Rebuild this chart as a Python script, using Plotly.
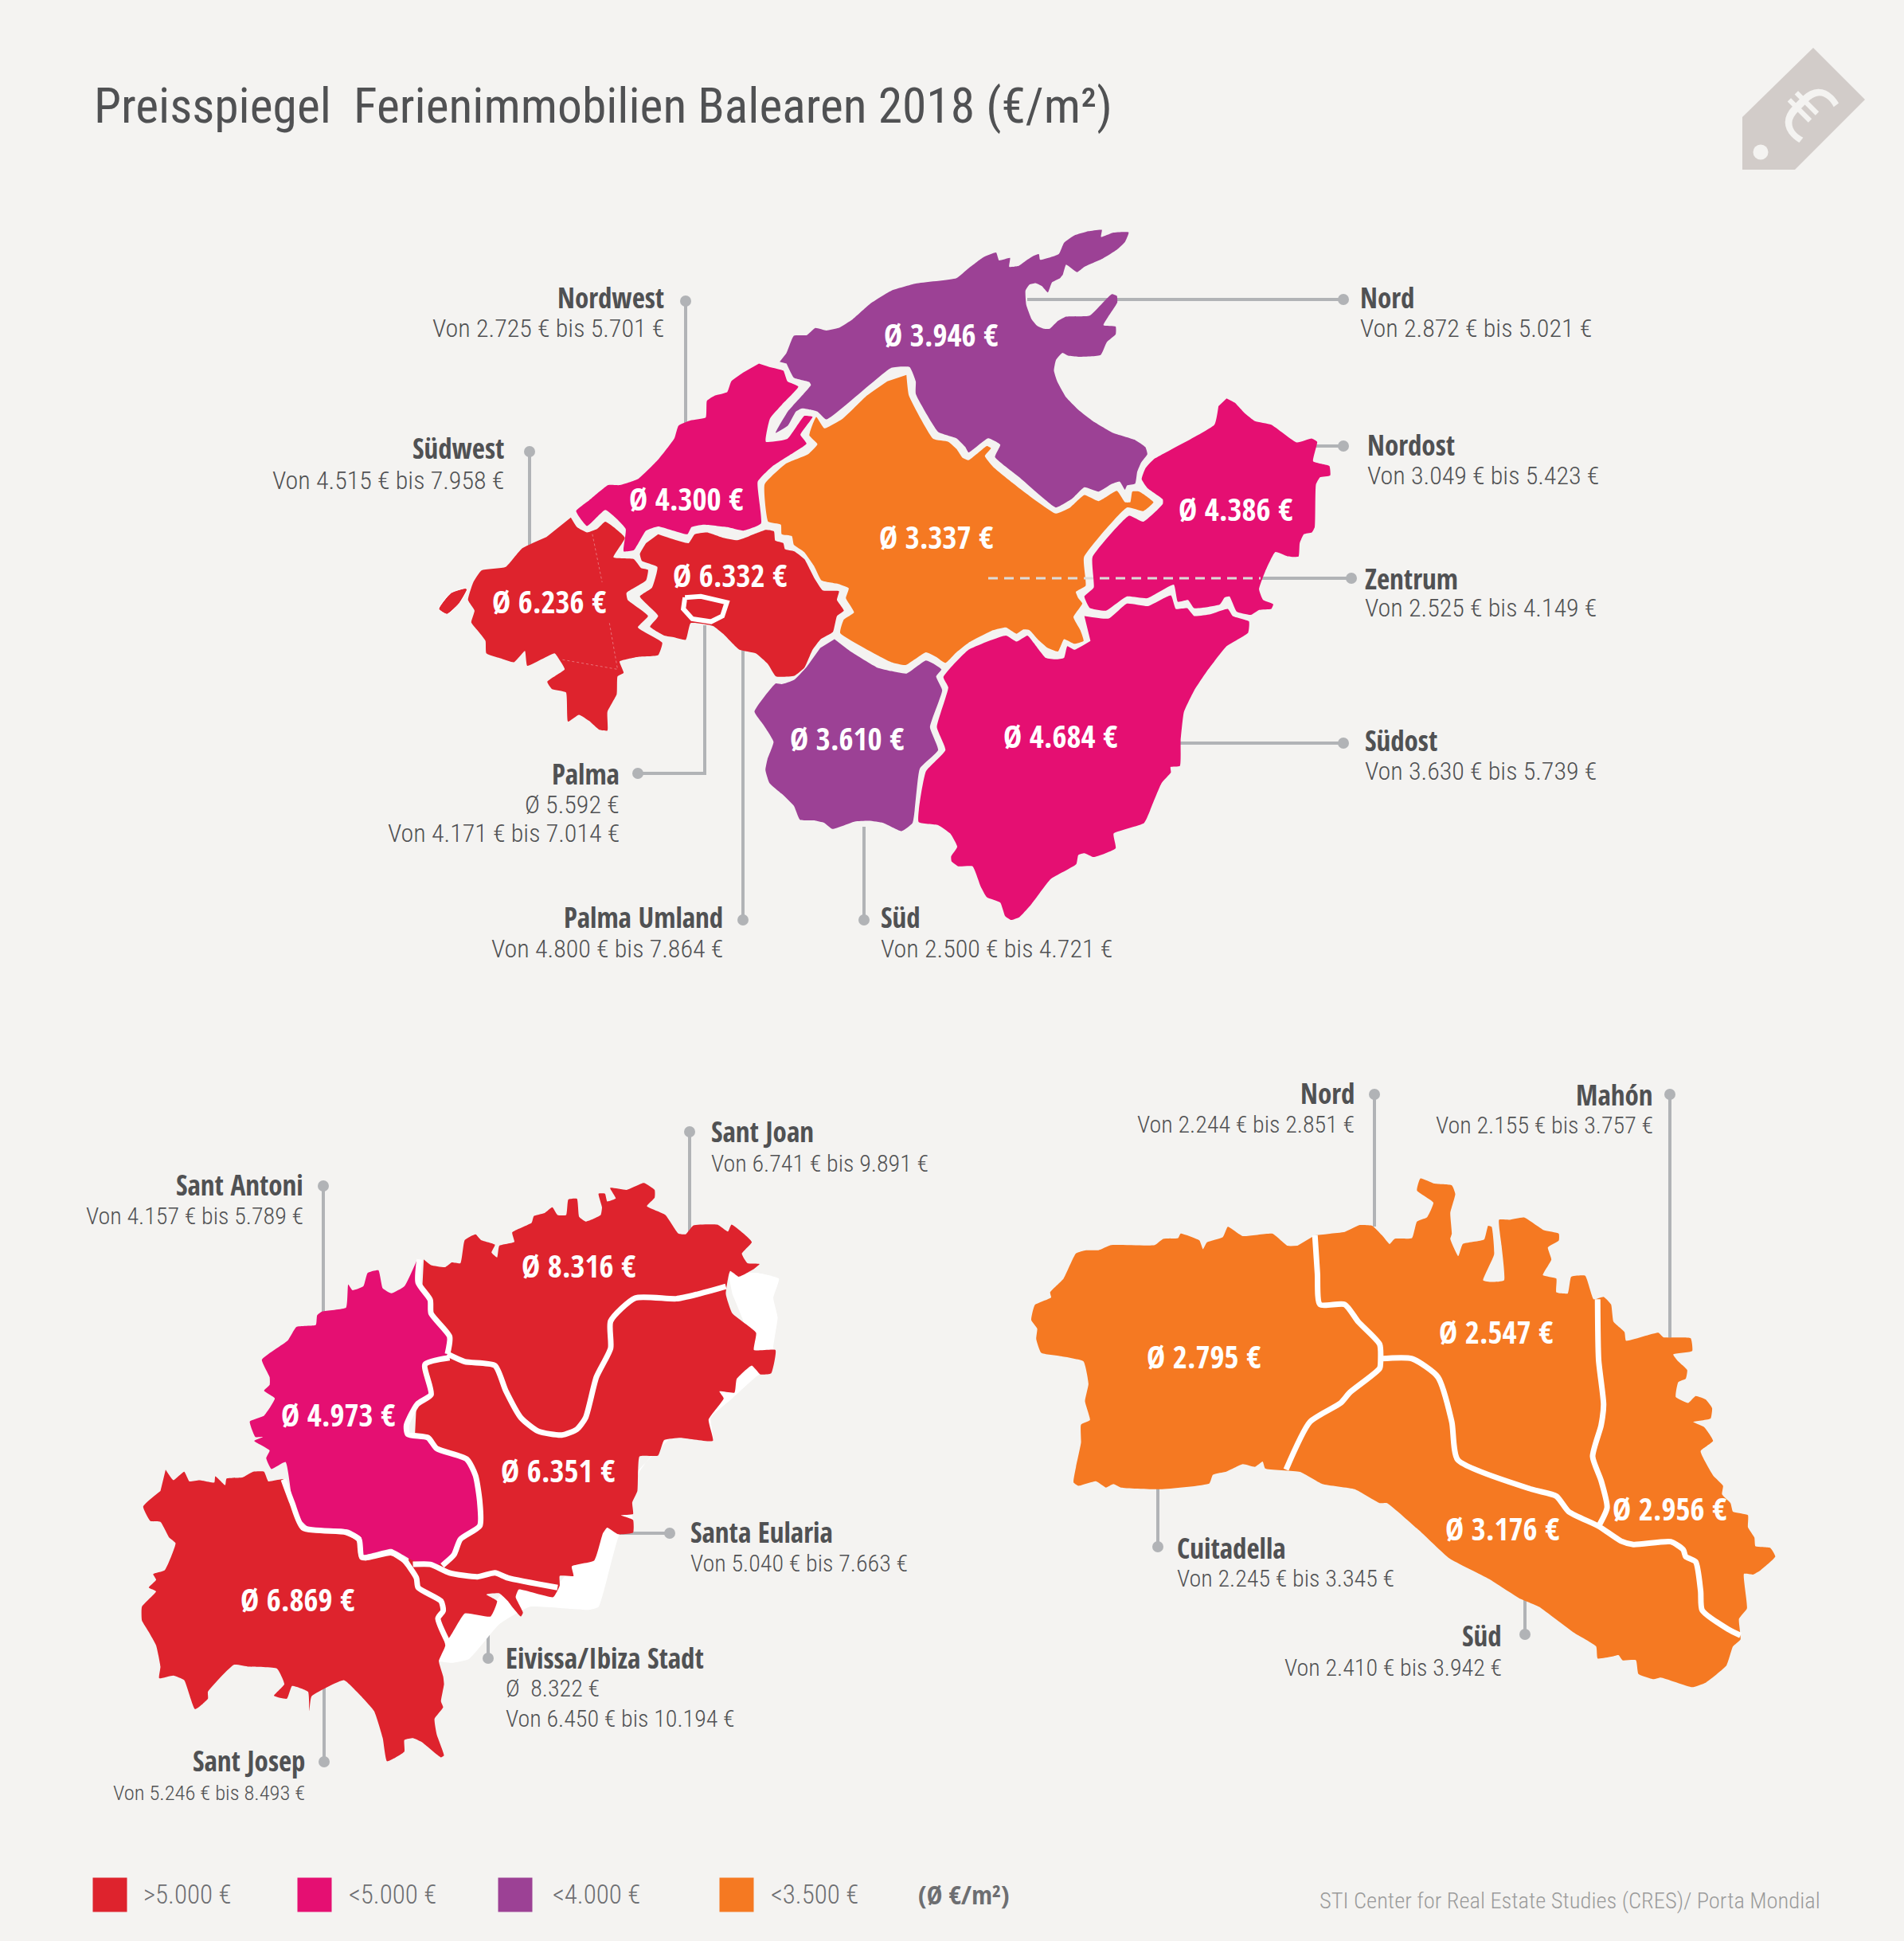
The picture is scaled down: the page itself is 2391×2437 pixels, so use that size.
import plotly.graph_objects as go

W, H = 2391, 2437
BG = "#F4F3F1"
ROT = "#DE232D"
PINK = "#E50F72"
LILA = "#9C4195"
ORANGE = "#F57922"
GRAU = "#B1B3B6"
TEXT = "#505153"
FONT = "Roboto Condensed"
FONT_BOLD = "Open Sans Condensed"

# outlines, each island in its own grid
# grid of mallorca: px = 900 + x / 1.96, py = 260 + y / 2.24
ma_nord = [(155,435),(172,410),(190,362),(222,360),(243,340),(270,347),(300,340),(335,315),(380,270),(430,235),(490,215),(590,200),(620,172),(655,142),(688,128),(695,150),(722,143),(720,168),(742,166),(762,150),(780,137),(793,132),(796,148),(842,132),(855,100),(880,80),(915,68),(948,64),(946,84),(975,72),(1014,71),(1005,98),(985,120),(950,145),(905,168),(887,183),(860,162),(852,190),(845,200),(825,212),(815,240),(800,222),(785,214),(770,218),(760,235),(762,275),(775,315),(790,335),(805,342),(820,342),(840,320),(860,308),(918,305),(972,245),(985,250),(986,268),(952,332),(982,336),(982,358),(960,380),(945,416),(890,421),(865,418),(851,410),(835,430),(830,460),(838,490),(860,535),(890,570),(930,605),(975,635),(1030,655),(1055,675),(1060,695),(1045,718),(1035,745),(1030,778),(1010,783),(1005,795),(992,772),(970,780),(940,800),(905,788),(875,820),(835,845),(800,815),(745,760),(685,703),(698,668),(668,650),(620,690),(612,675),(590,650),(545,632),(490,525),(490,490),(475,450),(430,452),(270,597),(248,575),(210,566),(195,575),(175,615),(145,635),(175,575),(232,500),(228,492),(190,480),(172,440)]
ma_zentrum = [(467,472),(473,530),(533,652),(570,660),(590,680),(605,705),(620,712),(665,672),(675,678),(660,700),(680,730),(750,795),(835,862),(870,845),(905,810),(940,827),(985,798),(1005,830),(1018,830),(1023,800),(1040,800),(1075,830),(1050,855),(1010,845),(904,985),(908,1065),(884,1082),(890,1100),(900,1115),(878,1153),(895,1190),(903,1220),(880,1228),(855,1215),(840,1250),(815,1240),(790,1215),(770,1190),(755,1188),(738,1200),(712,1182),(680,1190),(620,1225),(590,1252),(563,1282),(540,1265),(515,1252),(465,1288),(430,1280),(395,1260),(304,1198),(313,1160),(338,1140),(318,1100),(325,1072),(300,1060),(258,1050),(240,1010),(215,970),(190,950),(185,925),(160,920),(158,893),(127,885),(118,780),(170,722),(225,695),(248,667),(228,642),(245,590),(265,622),(310,595),(370,530),(420,490)]
ma_nordost = [(1255,538),(1275,550),(1300,580),(1325,602),(1365,612),(1428,662),(1465,651),(1478,660),(1468,715),(1508,728),(1510,755),(1485,760),(1475,780),(1472,900),(1465,915),(1445,920),(1435,945),(1432,983),(1405,982),(1375,970),(1350,1025),(1335,1075),(1345,1105),(1370,1117),(1365,1130),(1335,1133),(1315,1147),(1280,1138),(1262,1095),(1250,1098),(1238,1118),(1175,1128),(1160,1105),(1135,1110),(1125,1062),(1060,1100),(1010,1095),(958,1135),(918,1127),(905,1095),(928,1070),(925,985),(1015,868),(1050,885),(1098,835),(1098,822),(1060,790),(1046,765),(1055,735),(1075,710),(1225,612),(1235,560)]
ma_suedost = [(905,1150),(965,1157),(1010,1115),(1062,1122),(1118,1092),(1130,1130),(1158,1128),(1175,1150),(1215,1145),(1258,1130),(1270,1150),(1310,1165),(1308,1197),(1255,1235),(1210,1300),(1175,1360),(1150,1420),(1142,1500),(1140,1572),(1117,1575),(1118,1590),(1095,1620),(1075,1673),(1052,1732),(977,1762),(982,1803),(928,1828),(905,1817),(890,1822),(885,1848),(822,1890),(775,1960),(745,1997),(725,2005),(710,1994),(698,1956),(665,1941),(650,1911),(630,1854),(595,1854),(578,1840),(577,1826),(592,1799),(575,1762),(545,1738),(497,1729),(515,1587),(563,1527),(542,1463),(570,1351),(558,1322),(620,1245),(712,1205),(738,1222),(765,1205),(780,1225),(810,1268),(835,1272),(855,1268),(863,1235),(880,1245),(920,1220)]
ma_sued = [(290,1215),(330,1250),(395,1295),(430,1305),(467,1312),(515,1275),(535,1285),(553,1300),(540,1320),(555,1359),(525,1463),(545,1527),(500,1579),(482,1732),(455,1755),(410,1732),(375,1726),(340,1728),(285,1749),(265,1732),(240,1725),(205,1723),(190,1684),(160,1650),(130,1620),(120,1583),(125,1553),(140,1504),(115,1456),(93,1419),(145,1340),(160,1342),(190,1330),(220,1295),(255,1240)]
ma_umland = [(-144,920),(-104,935),(-69,945),(-54,920),(-24,915),(16,930),(51,937),(81,925),(121,908),(141,912),(144,938),(164,945),(168,962),(191,968),(216,990),(241,1045),(261,1078),(301,1080),(296,1105),(313,1135),(296,1150),(286,1195),(256,1215),(236,1245),(216,1295),(191,1318),(146,1320),(126,1285),(96,1255),(56,1245),(16,1200),(-9,1178),(-64,1170),(-76,1217),(-104,1210),(-129,1205),(-164,1180),(-144,1150),(-189,1095),(-159,1070),(-146,1012),(-184,995),(-189,975),(-174,945)]
ma_palma = [(-78,1098),(-39,1095),(25,1112),(14,1150),(-14,1166),(-60,1158),(-82,1130)]
ma_nordwest = [(104,440),(131,450),(164,460),(174,490),(201,505),(161,555),(131,595),(121,660),(174,652),(216,587),(236,590),(206,640),(221,665),(176,700),(136,730),(101,772),(109,890),(66,910),(26,900),(-34,893),(-62,900),(-72,920),(-144,898),(-174,910),(-204,965),(-229,968),(-224,905),(-274,852),(-319,897),(-346,855),(-314,825),(-267,782),(-239,782),(-194,765),(-144,710),(-104,650),(-94,615),(-64,600),(-27,592),(-24,545),(-4,530),(26,520),(36,490),(66,465)]
ma_suedwest = [(-359,873),(-344,900),(-319,915),(-294,905),(-274,885),(-226,930),(-254,985),(-204,990),(-186,1015),(-169,1020),(-174,1050),(-222,1085),(-219,1105),(-169,1150),(-194,1182),(-134,1225),(-144,1260),(-194,1265),(-239,1278),(-229,1310),(-244,1320),(-246,1370),(-269,1420),(-269,1472),(-289,1470),(-314,1445),(-339,1428),(-366,1447),(-371,1365),(-406,1355),(-417,1335),(-374,1300),(-386,1275),(-399,1255),(-466,1290),(-472,1248),(-499,1280),(-529,1270),(-567,1255),(-569,1220),(-589,1190),(-604,1168),(-596,1135),(-612,1105),(-599,1055),(-579,1022),(-519,1012),(-479,960),(-419,928)]
ma_dragonera = [(-619,1072),(-654,1085),(-684,1130),(-664,1145),(-634,1115),(-614,1075)]
ma_gemeinde_a = [(-306,920),(-282,1055)]
ma_gemeinde_b = [(-264,1170),(-244,1300),(-384,1272)]

# grid of ibiza: px = 150 + x / 1.845, py = 1460 + y / 2.063
ib_schatten = [(1410,285),(1480,285),(1528,300),(1515,350),(1525,400),(1515,480),(1520,490),(1510,540),(1480,550),(1420,610),(1370,660),(1375,720),(1300,712),(1262,720),(1205,800),(1185,880),(1190,950),(1160,960),(1110,1150),(1085,1158),(950,1150),(880,1195),(810,1285),(770,1295),(740,1290),(760,1230),(800,1170),(860,1150),(900,1100),(1000,1110),(1050,1045),(1120,960),(1200,800),(1380,600),(1470,500),(1420,340)]
ib_josep = [(107,795),(125,822),(150,800),(162,825),(185,822),(220,828),(222,812),(245,835),(248,818),(285,815),(310,800),(335,800),(345,825),(380,820),(395,880),(410,925),(435,955),(520,960),(550,980),(558,1022),(570,1030),(630,1012),(660,1030),(688,1075),(692,1100),(745,1135),(750,1160),(738,1180),(755,1250),(740,1290),(750,1330),(752,1350),(745,1395),(750,1410),(730,1440),(735,1480),(752,1535),(745,1540),(700,1500),(680,1490),(660,1495),(660,1525),(620,1550),(610,1490),(590,1420),(550,1370),(520,1340),(445,1382),(440,1420),(437,1370),(400,1355),(388,1388),(358,1380),(382,1350),(365,1310),(300,1305),(265,1300),(205,1370),(205,1388),(175,1415),(150,1340),(125,1328),(92,1335),(95,1305),(85,1250),(68,1215),(52,1185),(52,1150),(85,1110),(68,1100),(85,1080),(78,1065),(105,1055),(130,985),(115,970),(95,930),(72,928),(55,890),(95,850)]
ib_antoni = [(690,250),(660,320),(630,338),(610,325),(600,278),(575,285),(565,320),(540,330),(530,315),(525,375),(470,385),(458,395),(455,420),(410,425),(390,460),(330,510),(348,555),(348,575),(335,590),(360,610),(335,655),(302,670),(315,710),(332,710),(312,720),(348,745),(340,765),(352,793),(385,775),(400,870),(420,925),(440,945),(530,950),(560,970),(565,1015),(630,1000),(680,1030),(740,1040),(775,1010),(790,975),(830,955),(840,920),(830,880),(825,810),(805,770),(735,740),(715,710),(665,695),(675,650),(720,605),(700,530),(755,505),(770,450),(720,385),(715,345),(690,310)]
ib_ost = [(705,250),(722,265),(755,270),(770,258),(790,260),(800,200),(825,185),(838,200),(870,212),(862,232),(875,245),(880,215),(915,205),(910,180),(955,155),(960,138),(985,130),(1003,115),(1015,135),(1035,135),(1040,95),(1060,93),(1065,140),(1080,152),(1115,135),(1118,115),(1110,80),(1125,80),(1130,100),(1150,92),(1137,65),(1175,70),(1215,52),(1240,70),(1240,90),(1222,112),(1265,135),(1295,183),(1312,185),(1330,162),(1385,160),(1410,178),(1418,160),(1465,205),(1442,235),(1455,260),(1483,262),(1470,275),(1435,295),(1415,280),(1405,340),(1420,390),(1475,440),(1470,485),(1520,485),(1510,545),(1485,548),(1465,525),(1430,560),(1425,595),(1390,592),(1400,610),(1365,665),(1375,720),(1300,712),(1262,718),(1248,758),(1205,760),(1200,850),(1188,880),(1190,910),(1162,913),(1190,925),(1190,958),(1155,962),(1130,945),(1120,960),(1100,1030),(1048,1045),(1052,1070),(1020,1070),(1020,1095),(1005,1125),(925,1105),(918,1125),(935,1165),(930,1175),(910,1150),(900,1135),(880,1115),(850,1118),(875,1135),(860,1175),(800,1167),(760,1235),(735,1180),(750,1150),(730,1130),(692,1100),(690,1075),(670,1030)]
ib_grenzen = [
    [(695,250),(692,310),(720,355),(722,390),(765,450),(760,495)],
    [(760,495),(800,515),(870,525),(895,590),(930,660),(970,695),(1025,705),(1060,690),(1080,660),(1105,555),(1138,480),(1138,410),(1195,350),(1290,352),(1340,340),(1405,320)],
    [(765,505),(708,522),(722,600),(690,625),(665,680),(668,703),(715,712),(735,740),(805,768),(825,810),(835,880),(835,940),(790,975),(775,1015),(748,1043)],
    [(380,820),(400,880),(425,945),(525,957),(555,975),(562,1022),(630,1010),(660,1030),(688,1075),(692,1100),(745,1135),(750,1160),(738,1180),(760,1240)],
    [(680,1040),(720,1040),(765,1062),(830,1072),(870,1062),(900,1075),(1015,1100)],
]

# grid of menorca: px = 1270 + x / 1.6, py = 1460 + y / 2.306
me_insel = [(610,210),(640,205),(670,200),(700,180),(725,182),(745,210),(760,235),(770,220),(805,218),(815,170),(835,158),(848,115),(815,80),(822,45),(850,60),(885,65),(892,90),(882,145),(885,205),(882,220),(898,270),(907,235),(950,222),(958,182),(965,185),(970,265),(948,340),(965,345),(990,340),(985,240),(980,165),(1000,165),(1030,158),(1070,195),(1100,205),(1100,225),(1078,245),(1085,280),(1068,325),(1095,335),(1095,375),(1118,378),(1125,330),(1153,327),(1170,395),(1190,388),(1205,410),(1210,460),(1232,490),(1235,515),(1300,492),(1310,505),(1365,508),(1368,545),(1330,555),(1340,575),(1358,600),(1355,625),(1340,635),(1335,678),(1360,695),(1375,675),(1395,685),(1408,710),(1405,740),(1370,750),(1392,765),(1410,805),(1385,835),(1410,905),(1430,935),(1428,960),(1445,985),(1450,1010),(1480,1020),(1480,1055),(1493,1085),(1495,1110),(1525,1115),(1535,1140),(1505,1180),(1490,1192),(1472,1190),(1478,1290),(1462,1320),(1465,1380),(1450,1400),(1437,1455),(1395,1505),(1368,1518),(1305,1490),(1290,1495),(1260,1480),(1255,1440),(1228,1440),(1220,1425),(1205,1430),(1178,1435),(1175,1400),(1130,1360),(1060,1285),(1020,1260),(960,1205),(880,1145),(820,1065),(755,985),(740,985),(690,945),(625,930),(580,895),(510,885),(505,865),(490,880),(465,872),(430,895),(405,903),(398,928),(300,945),(220,940),(205,930),(190,940),(170,922),(135,935),(125,925),(130,880),(140,810),(140,758),(158,745),(148,690),(155,640),(145,575),(100,560),(60,550),(50,510),(52,480),(40,455),(47,412),(80,390),(78,375),(105,335),(130,262),(150,253),(175,253),(200,238),(288,238),(305,220),(335,218),(340,205),(378,225),(385,250),(393,230),(425,215),(435,185),(465,212),(525,205),(555,240),(575,240)]
me_grenzen = [
    [(610,210),(615,320),(620,410),(670,410),(697,460),(740,525),(742,570),(740,595),(680,665),(662,695),(600,750),(552,888)],
    [(742,567),(805,567),(857,620),(885,750),(897,860),(1045,945),(1095,965),(1120,1010),(1180,1052),(1225,1095),(1250,1105),(1325,1097),(1350,1120),(1355,1140),(1375,1155),(1385,1240),(1388,1295),(1440,1350),(1465,1368)],
    [(1178,395),(1180,570),(1190,700),(1185,760),(1168,850),(1185,920),(1197,998),(1180,1052)],
]

# prices
mittel = ["3.946", "4.300", "3.337", "4.386", "6.332", "6.236", "3.610", "4.684",
          "8.316", "4.973", "6.351", "6.869", "2.795", "2.547", "3.176", "2.956"]
mittel_x = [1181, 861, 1175, 1551, 916, 689, 1063, 1331, 726, 424, 700, 373, 1511, 1878, 1886, 2096]
mittel_y = [421, 627, 675, 640, 723, 756, 928, 925, 1590, 1777, 1847, 2009, 1704, 1673, 1920, 1895]

gebiete = ["Nordwest", "Südwest", "Nord", "Nordost", "Zentrum", "Südost", "Palma", "Palma Umland", "Süd",
           "Sant Joan", "Sant Antoni", "Santa Eularia", "Eivissa/Ibiza Stadt", "Sant Josep",
           "Nord", "Mahón", "Cuitadella", "Süd"]
spannen = ["Von 2.725 € bis 5.701 €", "Von 4.515 € bis 7.958 €", "Von 2.872 € bis 5.021 €", "Von 3.049 € bis 5.423 €",
           "Von 2.525 € bis 4.149 €", "Von 3.630 € bis 5.739 €", "Von 4.171 € bis 7.014 €", "Von 4.800 € bis 7.864 €",
           "Von 2.500 € bis 4.721 €", "Von 6.741 € bis 9.891 €", "Von 4.157 € bis 5.789 €", "Von 5.040 € bis 7.663 €",
           "Von 6.450 € bis 10.194 €", "Von 5.246 € bis 8.493 €", "Von 2.244 € bis 2.851 €", "Von 2.155 € bis 3.757 €",
           "Von 2.245 € bis 3.345 €", "Von 2.410 € bis 3.942 €"]
seite = ["right", "right", "left", "left", "left", "left", "right", "right", "left",
         "left", "right", "left", "left", "right", "right", "right", "left", "right"]
gebiet_x = [835, 634, 1707, 1716, 1713, 1713, 779, 909, 1105, 892, 382, 866, 634, 384, 1702, 2077, 1477, 1887]
gebiet_y = [375, 564, 375, 560, 728, 931, 973, 1153, 1153, 1422, 1489, 1925, 2083, 2212, 1374, 1376, 1945, 2055]
spanne_y = [413, 604, 413, 598, 764, 969, 1047, 1192, 1192, 1462, 1528, 1964, 2159, 2252, 1413, 1414, 1983, 2095]
spanne_size = [32, 32, 32, 32, 32, 32, 32, 32, 32, 30, 30, 30, 30, 26.5, 30, 30, 30, 30]

# leader lines, the dot sits on the first point
leitungen = [
    [(861,378),(861,540)], [(665,567),(665,690)], [(1687,376),(1290,376)], [(1687,560),(1648,560)],
    [(1697,726),(1583,726)], [(1687,933),(1480,933)], [(801,971),(885,971),(885,785)], [(933,1155),(933,815)],
    [(1085,1155),(1085,1038)], [(866,1421),(866,1555)], [(406,1489),(406,1656)], [(841,1925),(762,1925)],
    [(613,2082),(613,2030)], [(407,2212),(407,2115)], [(1726,1374),(1726,1540)], [(2097,1374),(2097,1685)],
    [(1454,1942),(1454,1865)], [(1915,2052),(1915,2005)],
]
zentrum_strich = [(1241,726),(1583,726)]

legende = [">5.000 €", "<5.000 €", "<4.000 €", "<3.500 €"]
legende_farbe = [ROT, PINK, LILA, ORANGE]
legende_x = [138, 395, 647, 925]
legende_text_x = [179, 437, 693, 967]

preisschild = [(2277,60),(2342,125),(2254,213),(2188,213),(2188,147)]


def mallorca(p):
    return [900 + x / 1.96 for x, y in p], [260 + y / 2.24 for x, y in p]


def ibiza(p):
    return [150 + x / 1.845 for x, y in p], [1460 + y / 2.063 for x, y in p]


def menorca(p):
    return [1270 + x / 1.6 for x, y in p], [1460 + y / 2.306 for x, y in p]


def flaeche(fig, xy, farbe, glatt=0.4):
    # a little smoothing, the coasts in the original are curved
    fig.add_trace(go.Scatter(x=xy[0], y=xy[1], mode="lines", fill="toself", fillcolor=farbe, hoverinfo="skip",
                             line=dict(width=0, color=farbe, shape="spline" if glatt else "linear",
                                       smoothing=glatt)))


def linie(fig, xy, farbe, breite, dash="solid", shape="linear"):
    fig.add_trace(go.Scatter(x=xy[0], y=xy[1], mode="lines", hoverinfo="skip",
                             line=dict(color=farbe, width=breite, dash=dash, shape=shape,
                                       smoothing=0.6 if shape == "spline" else None)))


def text(fig, x, y, s, size, farbe=TEXT, bold=False, anchor="left", angle=0, weight=300, family=FONT):
    fig.add_annotation(x=x, y=y - 1.5, text=s, showarrow=False, xanchor=anchor, yanchor="middle", textangle=angle,
                       font=dict(family=FONT_BOLD if bold else family, size=size, color=farbe,
                                 weight=700 if bold else weight),
                       xref="x", yref="y", borderpad=0)


fig = go.Figure()

for weg in leitungen:
    linie(fig, ([p[0] for p in weg], [p[1] for p in weg]), GRAU, 4)
    fig.add_trace(go.Scatter(x=[weg[0][0]], y=[weg[0][1]], mode="markers", hoverinfo="skip",
                             marker=dict(color=GRAU, size=14)))

# mallorca
for teil, farbe in [(ma_nord, LILA), (ma_zentrum, ORANGE), (ma_nordost, PINK), (ma_suedost, PINK), (ma_sued, LILA),
                    (ma_umland, ROT), (ma_nordwest, PINK), (ma_suedwest, ROT), (ma_dragonera, ROT)]:
    flaeche(fig, mallorca(teil), farbe)
linie(fig, mallorca(ma_palma + ma_palma[:1]), "white", 6)
linie(fig, mallorca(ma_dragonera + ma_dragonera[:1]), "white", 1, shape="spline")
linie(fig, mallorca(ma_gemeinde_a), "#E8737A", 1, dash="dot")
linie(fig, mallorca(ma_gemeinde_b), "#E8737A", 1, dash="dot")
linie(fig, ([p[0] for p in zentrum_strich], [p[1] for p in zentrum_strich]), "#DDDBD8", 3, dash="12px,8px")

# ibiza
flaeche(fig, ibiza(ib_schatten), "white")
flaeche(fig, ibiza(ib_josep), ROT)
flaeche(fig, ibiza(ib_ost), ROT)
flaeche(fig, ibiza(ib_antoni), PINK)
for g in ib_grenzen:
    linie(fig, ibiza(g), "white", 7, shape="spline")

# menorca
flaeche(fig, menorca(me_insel), ORANGE)
for g in me_grenzen:
    linie(fig, menorca(g), "white", 7, shape="spline")

# preisschild oben rechts
flaeche(fig, ([p[0] for p in preisschild], [p[1] for p in preisschild]), "#D2CCC9", glatt=0)
fig.add_trace(go.Scatter(x=[2211], y=[191], mode="markers", hoverinfo="skip", marker=dict(color=BG, size=19)))
text(fig, 2267, 140, "€", 100, farbe=BG, anchor="center", angle=45, weight=400, family="Roboto")

# legende
fig.add_trace(go.Scatter(x=legende_x, y=[2379] * 4, mode="markers", hoverinfo="skip",
                         marker=dict(color=legende_farbe, size=43, symbol="square")))
for s, x in zip(legende, legende_text_x):
    text(fig, x, 2380, s, 33, farbe="#6D6E71")
text(fig, 1152, 2380, "(Ø €/m²)", 33, farbe="#6D6E71", bold=True)
text(fig, 2287, 2388, "STI Center for Real Estate Studies (CRES)/ Porta Mondial", 28.5, farbe="#9B9B9B", anchor="right")

text(fig, 117, 134, "Preisspiegel  Ferienimmobilien Balearen 2018 (€/m²)", 61.5, weight=400)

for s, x, y in zip(mittel, mittel_x, mittel_y):
    text(fig, x, y, "Ø " + s + " €", 39, farbe="white", bold=True, anchor="center")

for i, name in enumerate(gebiete):
    text(fig, gebiet_x[i], gebiet_y[i], name, 35, bold=True, anchor=seite[i])
    text(fig, gebiet_x[i], spanne_y[i], spannen[i], spanne_size[i], anchor=seite[i])
text(fig, 779, 1011, "Ø 5.592 €", 32, anchor="right")
text(fig, 634, 2121, "Ø  8.322 €", 30)

fig.update_layout(
    width=W, height=H, showlegend=False,
    margin=dict(l=0, r=0, t=0, b=0),
    paper_bgcolor=BG, plot_bgcolor=BG,
    xaxis=dict(range=[0, W], visible=False, fixedrange=True),
    yaxis=dict(range=[H, 0], visible=False, fixedrange=True),
)
fig.write_html("out.html", config={"displayModeBar": False}, post_script="document.body.style.margin='0'")
